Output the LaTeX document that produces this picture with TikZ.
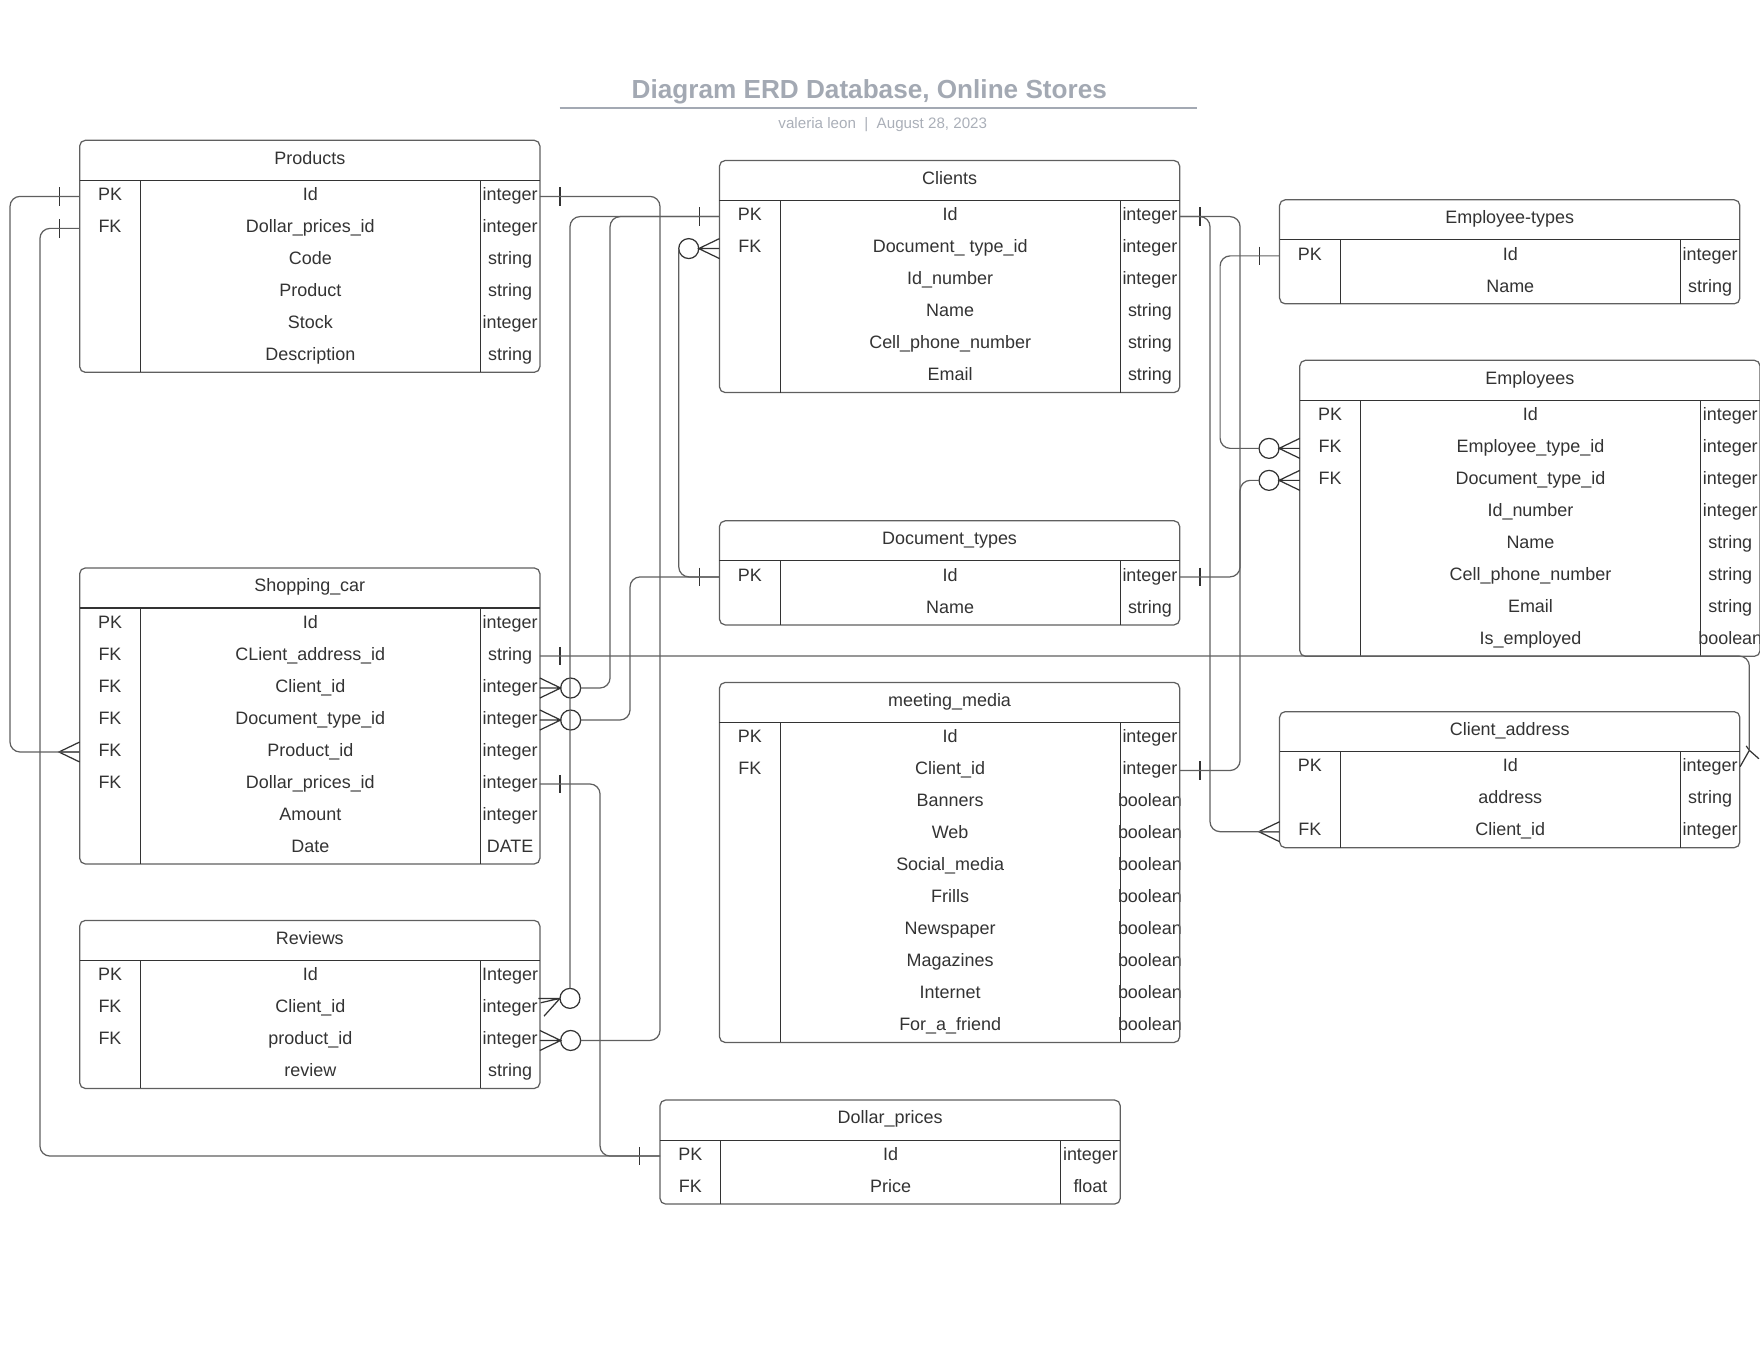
\documentclass[tikz,border=0pt]{standalone}
\usepackage{fontspec}
\setmainfont{Liberation Sans}
\usetikzlibrary{calc}
\definecolor{ink}{RGB}{51,51,51}
\definecolor{edgegrey}{RGB}{95,95,95}
\definecolor{ttl}{RGB}{163,169,179}
\definecolor{subttl}{RGB}{170,175,184}
\tikzset{
  tblbox/.style={draw=edgegrey, line width=0.55pt, rounded corners=2.5pt},
  tblline/.style={draw=ink, line width=0.5pt},
  conn/.style={draw=edgegrey, line width=0.55pt, rounded corners=4.5pt},
  erdmark/.style={draw=ink, line width=0.55pt},
  celltxt/.style={text=ink, font=\fontsize{8}{9.6}\selectfont, inner sep=0pt, anchor=base},
}
% #1 id, #2 left, #3 top, #4 title, #5 rows key/name/type
\newcommand\erdtable[5]{%
  \foreach \ekey/\ename/\etype [count=\i from 0] in {#5}{%
    \pgfmathsetmacro\yb{#3+53.7+28.5*\i}%
    \pgfmathsetmacro\yc{#3+49.95+28.5*\i}%
    \if\relax\detokenize\expandafter{\ekey}\relax\else
      \node[celltxt] (#1-k\i) at (#2+27,\yb) {\ekey};
    \fi
    \node[celltxt] (#1-n\i) at (#2+205.5,\yb) {\ename};
    \node[celltxt] (#1-t\i) at (#2+383.5,\yb) {\etype};
    \coordinate (#1-\i-W) at (#2,\yc);
    \coordinate (#1-\i-E) at (#2+410,\yc);
    \xdef\erdrows{\i}%
  }%
  \pgfmathsetmacro\ybot{#3+35.7+28.5*(\erdrows+1)}%
  \draw[tblbox] (#2,#3) rectangle (#2+410,\ybot);
  \draw[tblline] (#2,#3+35.7) -- (#2+410,#3+35.7);
  \draw[tblline] (#2+54,#3+35.7) -- (#2+54,\ybot);
  \draw[tblline] (#2+357,#3+35.7) -- (#2+357,\ybot);
  \node[celltxt] (#1-title) at (#2+205,#3+21.2) {#4};
}
\newcommand\onebar[2]{\draw[erdmark] ($(#1)+(#2*18,-8.2)$) -- ($(#1)+(#2*18,8.2)$);}
\newcommand\crowfoot[2]{\draw[erdmark] ($(#1)+(0,-8.9)$) -- ($(#1)+(#2*18.5,0)$) -- ($(#1)+(0,8.9)$) (#1) -- ($(#1)+(#2*18.5,0)$);}
\newcommand\zeromany[2]{\crowfoot{#1}{#2}\draw[erdmark] ($(#1)+(#2*27.4,0)$) circle[radius=4.45pt];
  \coordinate (#1-o) at ($(#1)+(#2*36.3,0)$);}

\begin{document}
\begin{tikzpicture}[x=0.5pt,y=-0.5pt]
\useasboundingbox (0,0) rectangle (1568,1212);

% title block
\node[font=\bfseries\fontsize{11.65}{13}\selectfont, text=ttl, anchor=base, inner sep=0pt] (title) at (774.5,87.8) {Diagram ERD Database, Online Stores};
\draw[draw=ttl, line width=0.9pt] (498.5,96.5) -- (1066.5,96.5);
\node[font=\fontsize{6.75}{8}\selectfont, text=subttl, anchor=base, inner sep=0pt] (subtitle) at (786.5,114.5) {valeria leon\ \ |\ \ August 28, 2023};

% tables
\erdtable{prod}{71}{125}{Products}{PK/Id/integer, FK/Dollar\_prices\_id/integer, /Code/string, /Product/string, /Stock/integer, /Description/string}
\erdtable{cli}{641}{143}{Clients}{PK/Id/integer, FK/Document\_ type\_id/integer, /Id\_number/integer, /Name/string, /Cell\_phone\_number/string, /Email/string}
\erdtable{etyp}{1140}{178}{Employee-types}{PK/Id/integer, /Name/string}
\erdtable{emp}{1158}{321}{Employees}{PK/Id/integer, FK/Employee\_type\_id/integer, FK/Document\_type\_id/integer, /Id\_number/integer, /Name/string, /Cell\_phone\_number/string, /Email/string, /Is\_employed/boolean}
\erdtable{doc}{641}{464}{Document\_types}{PK/Id/integer, /Name/string}
\erdtable{shop}{71}{506}{Shopping\_car}{PK/Id/integer, FK/CLient\_address\_id/string, FK/Client\_id/integer, FK/Document\_type\_id/integer, FK/Product\_id/integer, FK/Dollar\_prices\_id/integer, /Amount/integer, /Date/DATE}
\erdtable{meet}{641}{608}{meeting\_media}{PK/Id/integer, FK/Client\_id/integer, /Banners/boolean, /Web/boolean, /Social\_media/boolean, /Frills/boolean, /Newspaper/boolean, /Magazines/boolean, /Internet/boolean, /For\_a\_friend/boolean}
\erdtable{caddr}{1140}{634}{Client\_address}{PK/Id/integer, /address/string, FK/Client\_id/integer}
\erdtable{rev}{71}{820}{Reviews}{PK/Id/Integer, FK/Client\_id/integer, FK/product\_id/integer, /review/string}
\erdtable{dol}{588}{980}{Dollar\_prices}{PK/Id/integer, FK/Price/float}

% cardinality marks
\onebar{prod-0-E}{1}
\zeromany{rev-2-E}{1}
\onebar{prod-0-W}{-1}
\crowfoot{shop-4-W}{-1}
\onebar{prod-1-W}{-1}
\onebar{dol-0-W}{-1}
\onebar{cli-0-W}{-1}
\zeromany{shop-2-E}{1}
\zeromany{shop-3-E}{1}
\zeromany{cli-1-W}{-1}
\onebar{doc-0-W}{-1}
\onebar{cli-0-E}{1}
\onebar{meet-1-E}{1}
\crowfoot{caddr-2-W}{-1}
\onebar{etyp-0-W}{-1}
\zeromany{emp-1-W}{-1}
\zeromany{emp-2-W}{-1}
\onebar{doc-0-E}{1}
\onebar{shop-1-E}{1}
\onebar{shop-5-E}{1}
% Reviews.Client_id end
\coordinate (revcl) at ($(rev-1-E)+(26.8,-9)$);
\draw[erdmark] (revcl) circle[radius=4.45pt];
\draw[erdmark] ($(revcl)+(-8.9,0)$) -- ($(rev-1-E)+(-1.4,-9)$)
  ($(revcl)+(-8.9,0)$) -- ($(rev-1-E)+(0.7,-5.1)$)
  ($(revcl)+(-8.9,0)$) -- ($(rev-1-E)+(3.7,6.8)$);
% Client_address.Id end
\coordinate (cacrow) at ($(caddr-0-E)+(8.5,-15.5)$);
\draw[erdmark] (cacrow) -- ($(caddr-0-E)+(0.3,-1)$)
  (cacrow) -- ($(cacrow)+(8.5,7.5)$)
  (cacrow) -- ($(cacrow)+(-2.8,-3.9)$);

% connectors
\draw[conn] (prod-0-E) -- ++(107,0) |- (rev-2-E-o);
\draw[conn] (prod-0-W) -- ++(-62.1,0) |- (shop-4-W);
\draw[conn] (prod-1-W) -- ++(-35.4,0) |- (dol-0-W);
\draw[conn] (cli-0-W) -- ++(-97.5,0) |- (shop-2-E-o);
\draw[conn] (cli-0-W) -| ($(revcl)+(0,-8.9)$);
\draw[conn] (cli-1-W-o) |- (doc-0-W);
\draw[conn] (doc-0-W) -- ++(-79.7,0) |- (shop-3-E-o);
\draw[conn] (cli-0-E) -- ++(53.8,0) |- (meet-1-E);
\draw[conn] (cli-0-E) -- ++(27,0) |- (caddr-2-W);
\draw[conn] (etyp-0-W) -- ++(-53,0) |- (emp-1-W-o);
\draw[conn] (doc-0-E) -- ++(53.8,0) |- (emp-2-W-o);
\draw[conn] (shop-1-E) -| (cacrow);
\draw[conn] (shop-5-E) -- ++(53.6,0) |- (dol-0-W);
\end{tikzpicture}
\end{document}
